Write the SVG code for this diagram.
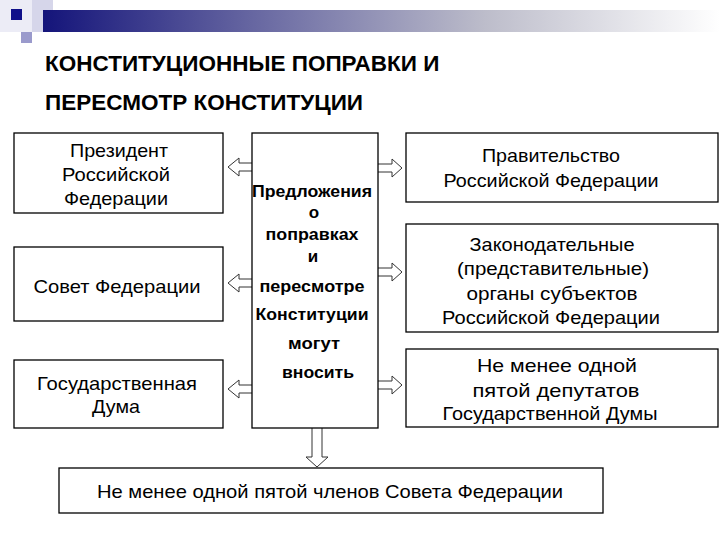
<svg xmlns="http://www.w3.org/2000/svg" width="720" height="540" viewBox="0 0 720 540">
<defs>
<linearGradient id="bar" x1="0" y1="0" x2="1" y2="0">
<stop offset="0" stop-color="#14147a"/>
<stop offset="0.3" stop-color="#6464a0"/>
<stop offset="0.65" stop-color="#bcbcca"/>
<stop offset="1" stop-color="#ffffff"/>
</linearGradient>
<style>
.box{fill:#fff;stroke:#000;stroke-width:1.3}
.t{font-family:"Liberation Sans",Arial,sans-serif;font-size:18.5px;text-anchor:middle;fill:#000}
.b{font-weight:bold;font-size:17px}
.h{font-family:"Liberation Sans",Arial,sans-serif;font-size:22.5px;font-weight:bold;fill:#000}
.ar{fill:#fff;stroke:#333;stroke-width:1}
</style>
</defs>
<rect width="720" height="540" fill="#fff"/>
<g id="header">
<rect x="0" y="0" width="32" height="32" fill="#ececf6"/>
<rect x="32" y="0" width="21" height="32" fill="#d6d6ea"/>
<rect x="43" y="10" width="677" height="22" fill="url(#bar)"/>
<rect x="11" y="9" width="11" height="11" fill="#10108a"/>
<rect x="21" y="32" width="11" height="11" fill="#9a9acc"/>
</g>
<g id="title">
<text class="h" x="45" y="71">КОНСТИТУЦИОННЫЕ ПОПРАВКИ И</text>
<text class="h" x="45" y="110">ПЕРЕСМОТР КОНСТИТУЦИИ</text>
</g>
<g id="connectors">
<path class="ar" d="M252,163 H239 V158 L228,167 L239,176 V171 H252"/>
<path class="ar" d="M252,279 H239 V274 L228,283 L239,292 V287 H252"/>
<path class="ar" d="M252,385 H239 V380 L228,389 L239,398 V393 H252"/>
<path class="ar" d="M378,164 H392 V159 L402,168 L392,177 V172 H378"/>
<path class="ar" d="M378,268 H392 V263 L402,272 L392,281 V276 H378"/>
<path class="ar" d="M378,381 H392 V376 L402,385 L392,394 V389 H378"/>
<path class="ar" d="M312,428 V457 H306 L317,467 L328,457 H322 V428"/>
</g>
<g id="president">
<rect class="box" x="14" y="133" width="209" height="80"/>
<text class="t" x="119" y="157" textLength="98" lengthAdjust="spacingAndGlyphs">Президент</text>
<text class="t" x="116" y="181" textLength="108" lengthAdjust="spacingAndGlyphs">Российской</text>
<text class="t" x="116" y="205" textLength="104" lengthAdjust="spacingAndGlyphs">Федерации</text>
</g>
<g id="sovet">
<rect class="box" x="14" y="247" width="209" height="74"/>
<text class="t" x="117" y="293" textLength="167" lengthAdjust="spacingAndGlyphs">Совет Федерации</text>
</g>
<g id="duma">
<rect class="box" x="14" y="360" width="209" height="68"/>
<text class="t" x="117" y="390" textLength="160" lengthAdjust="spacingAndGlyphs">Государственная</text>
<text class="t" x="116" y="413" textLength="48" lengthAdjust="spacingAndGlyphs">Дума</text>
</g>
<g id="center">
<rect class="box" x="252" y="133" width="126" height="295"/>
<text class="t b" x="312" y="197" textLength="120" lengthAdjust="spacingAndGlyphs">Предложения</text>
<text class="t b" x="314" y="218">о</text>
<text class="t b" x="312" y="240" textLength="93" lengthAdjust="spacingAndGlyphs">поправках</text>
<text class="t b" x="313" y="262">и</text>
<text class="t b" x="312" y="292" textLength="105" lengthAdjust="spacingAndGlyphs">пересмотре</text>
<text class="t b" x="312" y="320" textLength="113" lengthAdjust="spacingAndGlyphs">Конституции</text>
<text class="t b" x="314" y="349" textLength="52" lengthAdjust="spacingAndGlyphs">могут</text>
<text class="t b" x="318" y="378" textLength="72" lengthAdjust="spacingAndGlyphs">вносить</text>
</g>
<g id="government">
<rect class="box" x="406" y="133" width="312" height="69"/>
<text class="t" x="551" y="162" textLength="138" lengthAdjust="spacingAndGlyphs">Правительство</text>
<text class="t" x="551" y="187" textLength="215" lengthAdjust="spacingAndGlyphs">Российской Федерации</text>
</g>
<g id="legislative">
<rect class="box" x="406" y="224" width="312" height="108"/>
<text class="t" x="552" y="251" textLength="165" lengthAdjust="spacingAndGlyphs">Законодательные</text>
<text class="t" x="553" y="275" textLength="192" lengthAdjust="spacingAndGlyphs">(представительные)</text>
<text class="t" x="552" y="300" textLength="171" lengthAdjust="spacingAndGlyphs">органы субъектов</text>
<text class="t" x="551" y="324" textLength="218" lengthAdjust="spacingAndGlyphs">Российской Федерации</text>
</g>
<g id="deputies">
<rect class="box" x="406" y="349" width="312" height="78"/>
<text class="t" x="557" y="372" textLength="160" lengthAdjust="spacingAndGlyphs">Не менее одной</text>
<text class="t" x="556" y="397" textLength="167" lengthAdjust="spacingAndGlyphs">пятой депутатов</text>
<text class="t" x="550" y="420" textLength="215" lengthAdjust="spacingAndGlyphs">Государственной Думы</text>
</g>
<g id="senators">
<rect class="box" x="59" y="468" width="544" height="45"/>
<text class="t" x="330" y="498" textLength="466" lengthAdjust="spacingAndGlyphs">Не менее одной пятой членов Совета Федерации</text>
</g>
</svg>
